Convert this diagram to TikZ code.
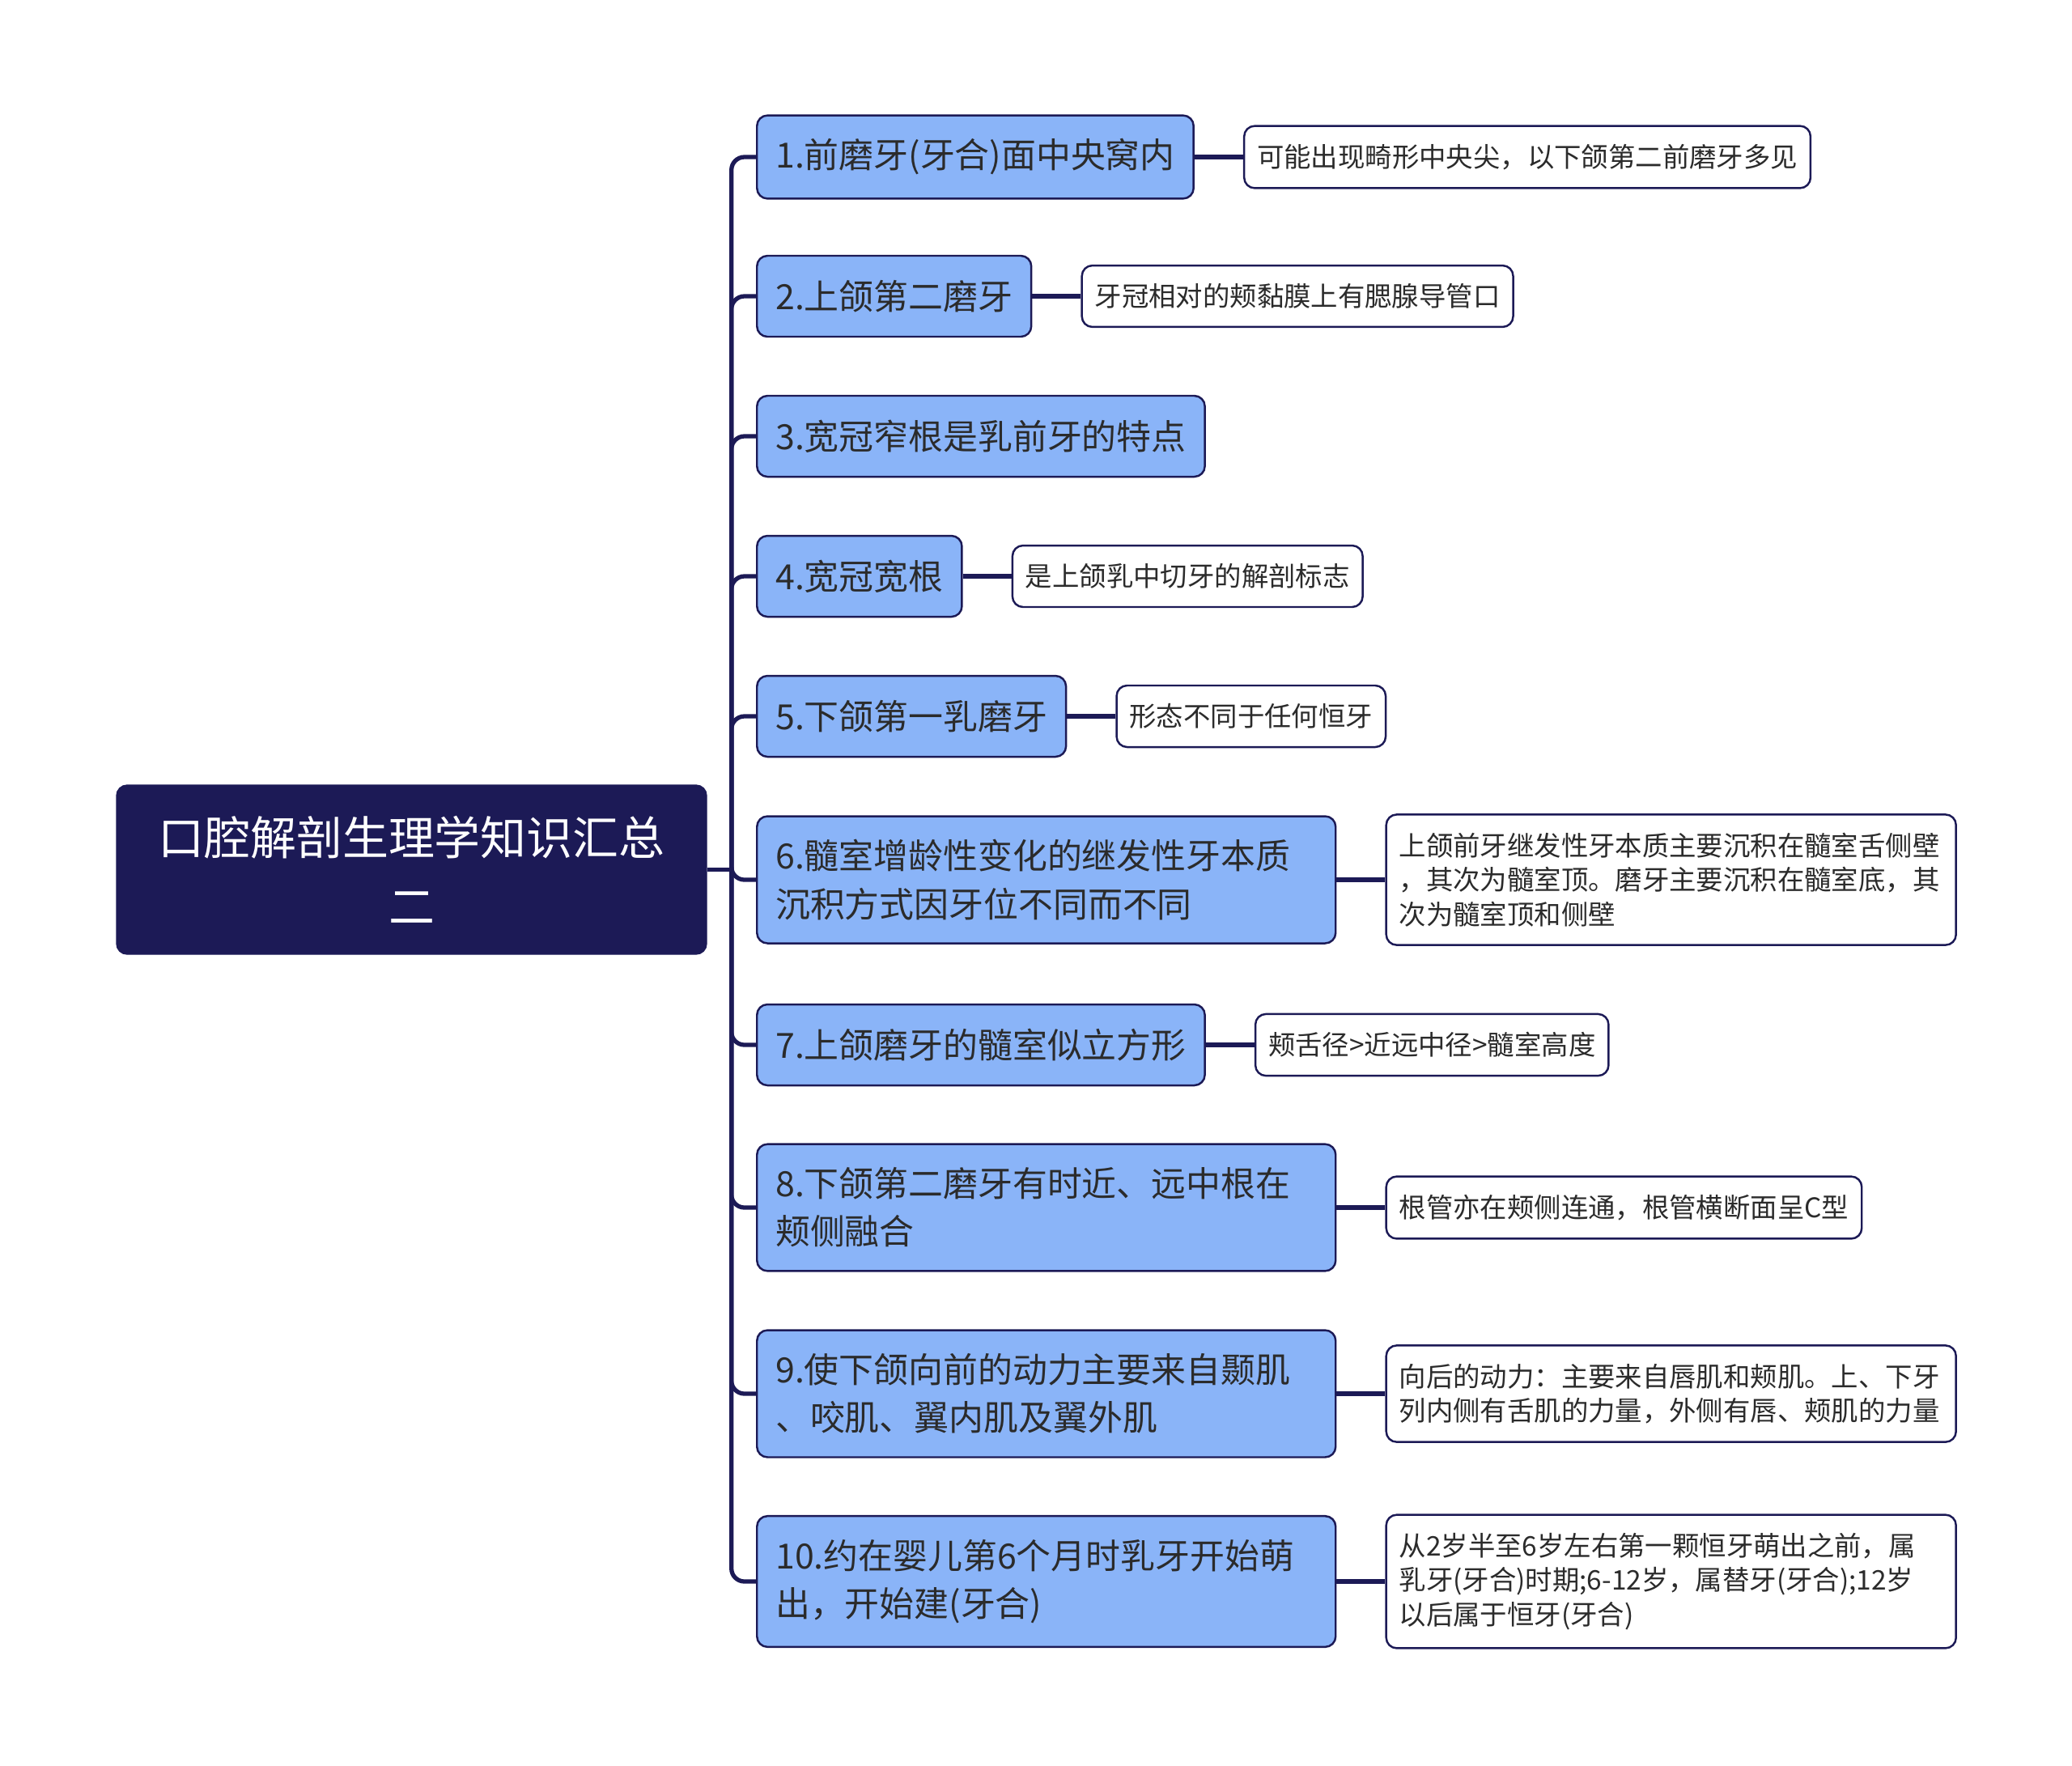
\documentclass[tikz,border=0pt]{standalone}
\usepackage{fontspec}
\newfontfamily\cjk{Noto Sans CJK SC}
\usetikzlibrary{positioning}

\definecolor{navy}{HTML}{1C1A56}
\definecolor{skyfill}{HTML}{8AB4F8}
\definecolor{inktext}{HTML}{2B2B2B}

\tikzset{
  rootbox/.style={draw=navy, fill=navy, rounded corners=0.13cm, text=white,
    minimum width=7.29cm, minimum height=2.09cm, align=center,
    font=\cjk\fontsize{16.2}{24.2}\selectfont},
  topicbox/.style={draw=navy, line width=0.7pt, fill=skyfill, rounded corners=0.13cm,
    text=inktext, anchor=west, inner xsep=0.23cm, inner ysep=0.29cm,
    minimum height=1cm, align=left, font=\cjk\fontsize{12.2}{16.8}\selectfont},
  widetopic/.style={topicbox, text width=6.69cm},
  notebox/.style={draw=navy, line width=0.7pt, fill=white, rounded corners=0.13cm,
    text=inktext, inner xsep=0.16cm, inner ysep=0.225cm,
    minimum height=0.75cm, align=left, font=\cjk\fontsize{9.5}{12.1}\selectfont},
  widenote/.style={notebox, text width=6.72cm},
  link/.style={draw=navy, line width=1.5pt, rounded corners=0.16cm}
}

\begin{document}
\begin{tikzpicture}[x=1cm, y=1cm]
  \useasboundingbox (0,0) rectangle (25.6,-21.81);

  % root
  \node[rootbox] (root) at (5.085,-10.745) {口腔解剖生理学知识汇总\\二};
  \coordinate[right=0.3cm of root] (hub);

  % topics
  \node[topicbox] (t1) at (9.34,-1.94) {1.前磨牙(牙合)面中央窝内};
  \node[topicbox] (t2) at (9.34,-3.66) {2.上颌第二磨牙};
  \node[topicbox] (t3) at (9.34,-5.39) {3.宽冠窄根是乳前牙的特点};
  \node[topicbox] (t4) at (9.34,-7.12) {4.宽冠宽根};
  \node[topicbox] (t5) at (9.34,-8.85) {5.下颌第一乳磨牙};
  \node[widetopic] (t6) at (9.34,-10.87) {6.髓室增龄性变化的继发性牙本质\\沉积方式因牙位不同而不同};
  \node[topicbox] (t7) at (9.34,-12.91) {7.上颌磨牙的髓室似立方形};
  \node[widetopic] (t8) at (9.34,-14.92) {8.下颌第二磨牙有时近、远中根在\\颊侧融合};
  \node[widetopic] (t9) at (9.34,-17.22) {9.使下颌向前的动力主要来自颞肌\\、咬肌、翼内肌及翼外肌};
  \node[widetopic] (t10) at (9.34,-19.54) {10.约在婴儿第6个月时乳牙开始萌\\出，开始建(牙合)};

  % notes
  \node[notebox, right=0.6cm of t1] (n1) {可能出现畸形中央尖，以下颌第二前磨牙多见};
  \node[notebox, right=0.6cm of t2] (n2) {牙冠相对的颊黏膜上有腮腺导管口};
  \node[notebox, right=0.6cm of t4] (n4) {是上颌乳中切牙的解剖标志};
  \node[notebox, right=0.6cm of t5] (n5) {形态不同于任何恒牙};
  \node[widenote, right=0.6cm of t6] (n6) {上颌前牙继发性牙本质主要沉积在髓室舌侧壁\\，其次为髓室顶。磨牙主要沉积在髓室底，其\\次为髓室顶和侧壁};
  \node[notebox, right=0.6cm of t7] (n7) {颊舌径>近远中径>髓室高度};
  \node[notebox, right=0.6cm of t8] (n8) {根管亦在颊侧连通，根管横断面呈C型};
  \node[widenote, right=0.6cm of t9] (n9) {向后的动力：主要来自唇肌和颊肌。上、下牙\\列内侧有舌肌的力量，外侧有唇、颊肌的力量};
  \node[widenote, right=0.6cm of t10] (n10) {从2岁半至6岁左右第一颗恒牙萌出之前，属\\乳牙(牙合)时期;6-12岁，属替牙(牙合);12岁\\以后属于恒牙(牙合)};

  % links
  \draw[link] (root.east) -- (hub);
  \foreach \t in {t1,t2,t3,t4,t5,t6,t7,t8,t9,t10}
    \draw[link] (hub) |- (\t.west);
  \foreach \t/\n in {t1/n1,t2/n2,t4/n4,t5/n5,t6/n6,t7/n7,t8/n8,t9/n9,t10/n10}
    \draw[link] (\t.east) -- (\n.west);
\end{tikzpicture}
\end{document}
